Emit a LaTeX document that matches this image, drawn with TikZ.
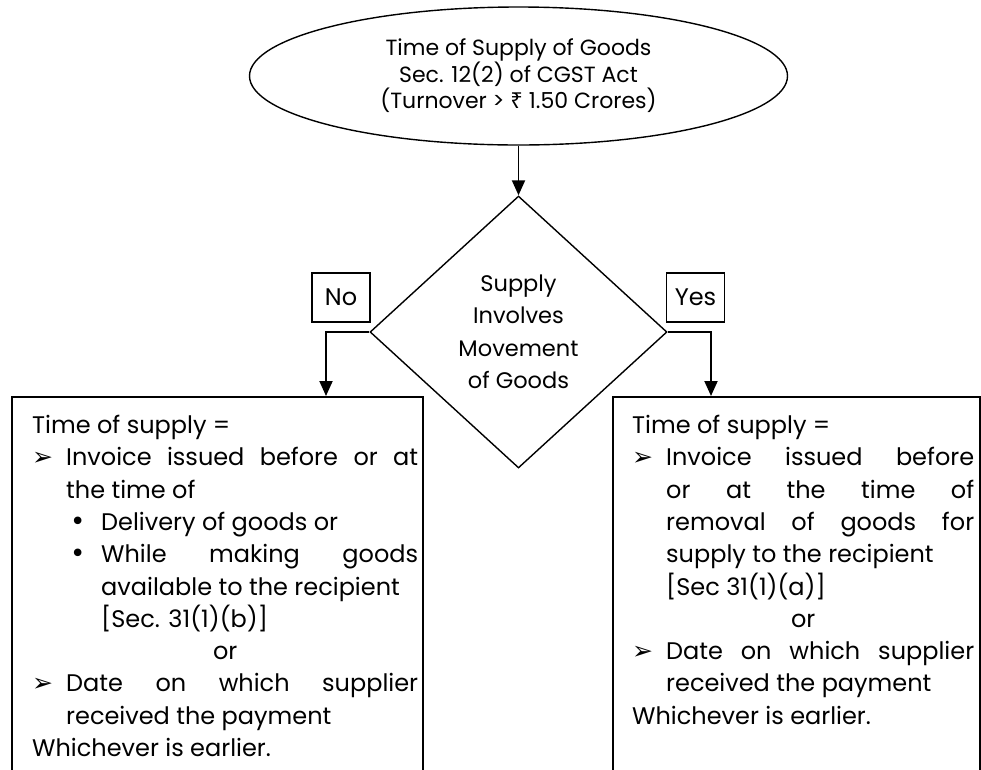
\documentclass[tikz,border=0pt]{standalone}
\usepackage{fontspec}
\setmainfont{Poppins}
\newfontfamily\symfont{DejaVu Sans}
\newfontfamily\rupfont{Noto Sans}
\usetikzlibrary{calc,arrows.meta,positioning,shapes.geometric}
\newcommand\tip{\makebox[34pt][l]{\symfont\fontsize{25}{25}\selectfont ➢}}
\newcommand\dotlabel{\llap{\makebox[31pt][l]{\symfont\fontsize{26}{26}\selectfont •}}}
\begin{document}
\begin{tikzpicture}[x=1pt, y=-1pt, font=\fontsize{24}{32.3}\selectfont,
  frame/.style={draw, line width=1.5pt, minimum width=#1, minimum height=420pt, inner sep=0pt},
  body/.style={text width=#1, align=justify, inner sep=0pt, anchor=north west},
  tag/.style={draw, line width=1.3pt, minimum width=58pt, minimum height=49pt, inner sep=0pt},
  arr/.style={-{Triangle[length=15pt,width=13pt]}, line width=1.9pt}]
\useasboundingbox (0,0) rectangle (981,769);
\clip (0,0) rectangle (981,769);
%% top and decision
\node[ellipse, draw, line width=1.4pt, minimum width=538pt, minimum height=138pt, inner sep=0pt,
      align=center, font=\fontsize{22}{26.5}\selectfont] (head) at (518.5,76)
  {Time of Supply of Goods\\ Sec. 12(2) of CGST Act\\ (Turnover > {\rupfont ₹} 1.50 Crores)};
\node[diamond, draw, line width=1.4pt, minimum width=297pt, minimum height=272pt, inner sep=0pt,
      align=center, font=\fontsize{22.5}{32.5}\selectfont] (dec) at (518.5,332)
  {Supply\\ Involves\\ Movement\\ of Goods};
\node[tag] (no) at (341,297.5) {No};
\node[tag] (yes) at (695.5,297.5) {Yes};
%% result boxes
\node[frame=411pt, anchor=north west] (noframe) at (11,396) {};
\node[frame=367pt, anchor=north west] (yesframe) at (612,396) {};
\node[body=386pt] (notext) at ($(noframe.north west)+(21,19)$)
  {\noindent Time of supply =\par
   \hangindent=34pt\hangafter=1\noindent\tip Invoice issued before or at\linebreak the time of\par
   {\leftskip=69pt
    \noindent\dotlabel Delivery of goods or\par
    \noindent\dotlabel While making goods\linebreak available to the recipient\newline [Sec. 31(1)(b)]\par}
   \centerline{or}
   \hangindent=34pt\hangafter=1\noindent\tip Date on which supplier\linebreak received the payment\par
   \noindent Whichever is earlier.};
\node[body=342pt] (yestext) at ($(yesframe.north west)+(20,19)$)
  {\noindent Time of supply =\par
   \hangindent=34pt\hangafter=1\noindent\tip Invoice issued before\linebreak or at the time of\linebreak
     removal of goods for\linebreak supply to the recipient\newline [Sec 31(1)(a)]\par
   \centerline{or}
   \hangindent=34pt\hangafter=1\noindent\tip Date on which supplier\linebreak received the payment\par
   \noindent Whichever is earlier.};
%% arrows
\draw[arr] (head.south) -- (dec.north);
\draw[arr] (dec.west) -| ([xshift=315pt]noframe.north west);
\draw[arr] (dec.east) -| ([xshift=99pt]yesframe.north west);
\end{tikzpicture}
\end{document}
